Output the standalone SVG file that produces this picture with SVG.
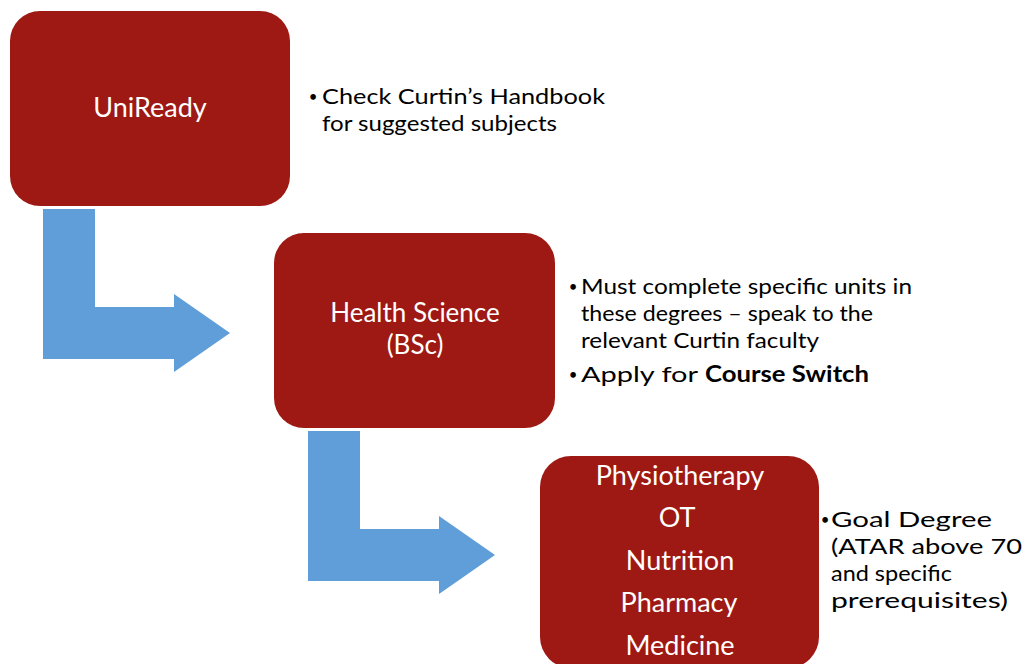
<svg xmlns="http://www.w3.org/2000/svg" width="1026" height="664" viewBox="0 0 1026 664">
<style>
.box{fill:#9E1913;}
.arrow{fill:#5F9ED8;}
.bt{font-family:Lato,"Open Sans","Liberation Sans",sans-serif;font-size:27px;fill:#FFFFFF;text-anchor:middle;}
.bt2{font-family:Lato,"Open Sans","Liberation Sans",sans-serif;font-size:26px;fill:#FFFFFF;text-anchor:middle;}
.tx{font-family:Lato,"Open Sans","Liberation Sans",sans-serif;font-size:22px;fill:#000000;}
.bul{font-family:Lato,"Open Sans","Liberation Sans",sans-serif;font-size:15px;fill:#000000;text-anchor:middle;}
.b{font-weight:bold;}
</style>
<rect width="1026" height="664" fill="#FFFFFF"/>
<g id="connectors">
<polygon class="arrow" points="43,209 95,209 95,307 174,307 174,294 230,333 174,372 174,359 43,359"/>
<polygon class="arrow" points="308,431 360,431 360,529 439,529 439,516 495,555 439,594 439,581 308,581"/>
</g>
<g id="node-uniready">
<rect class="box" x="10" y="11" width="280" height="195" rx="30" ry="30"/>
<text class="bt" x="150" y="117">UniReady</text>
</g>
<g id="node-health-science">
<rect class="box" x="274" y="233" width="281" height="195" rx="30" ry="30"/>
<text class="bt2" x="415" y="322">Health Science</text>
<text class="bt2" x="415" y="354">(BSc)</text>
</g>
<g id="node-goal">
<rect class="box" x="540" y="456" width="279" height="212" rx="31" ry="31"/>
<text class="bt" x="680" y="485">Physiotherapy</text>
<text class="bt" x="677" y="527">OT</text>
<text class="bt" x="680" y="570">Nutrition</text>
<text class="bt" x="679" y="612">Pharmacy</text>
<text class="bt" x="680" y="655">Medicine</text>
</g>
<g id="note-uniready">
<text class="bul" x="313" y="102">•</text>
<text class="tx" x="322" y="104" textLength="283" lengthAdjust="spacingAndGlyphs">Check Curtin’s Handbook</text>
<text class="tx" x="322" y="131" textLength="235" lengthAdjust="spacingAndGlyphs">for suggested subjects</text>
</g>
<g id="note-health-science">
<text class="bul" x="573" y="292">•</text>
<text class="tx" x="581" y="294" textLength="331" lengthAdjust="spacingAndGlyphs">Must complete specific units in</text>
<text class="tx" x="581" y="321" textLength="292" lengthAdjust="spacingAndGlyphs">these degrees – speak to the</text>
<text class="tx" x="581" y="348" textLength="238" lengthAdjust="spacingAndGlyphs">relevant Curtin faculty</text>
<text class="bul" x="573" y="380">•</text>
<text class="tx" x="581" y="382" textLength="117" lengthAdjust="spacingAndGlyphs">Apply for</text>
<text class="tx b" x="705" y="382" textLength="164" lengthAdjust="spacingAndGlyphs">Course Switch</text>
</g>
<g id="note-goal">
<text class="bul" x="825" y="525">•</text>
<text class="tx" x="831" y="527" textLength="161" lengthAdjust="spacingAndGlyphs">Goal Degree</text>
<text class="tx" x="831" y="554" textLength="191" lengthAdjust="spacingAndGlyphs">(ATAR above 70</text>
<text class="tx" x="831" y="581" textLength="121" lengthAdjust="spacingAndGlyphs">and specific</text>
<text class="tx" x="831" y="608" textLength="177" lengthAdjust="spacingAndGlyphs">prerequisites)</text>
</g>
</svg>
